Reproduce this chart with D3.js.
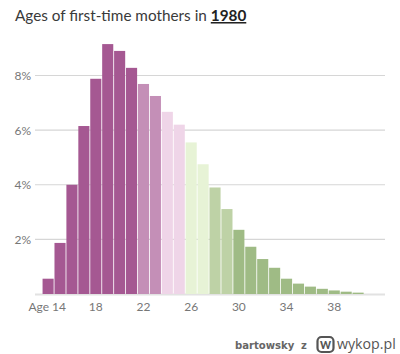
<!DOCTYPE html>
<html><head><meta charset="utf-8">
<script src="https://cdn.jsdelivr.net/npm/d3@7"></script>
<style>html,body{margin:0;padding:0;background:#fff}svg{display:block}</style>
</head><body><svg id="c" width="400" height="354"></svg>
<script>
const ages = [14,15,16,17,18,19,20,21,22,23,24,25,26,27,28,29,30,31,32,33,34,35,36,37,38,39,40];
const shares = [0.56,1.87,4.0,6.15,7.88,9.15,8.9,8.28,7.69,7.25,6.67,6.2,5.55,4.75,3.9,3.11,2.35,1.73,1.28,0.96,0.56,0.38,0.27,0.19,0.13,0.085,0.05];
const groupAges = [14,22,24,26,28,30];
const groupColors = ["#a55892","#c48fb7","#efd5e8","#e7f3d6","#bed2a6","#9fbb85"];
const yTicks = [2,4,6,8];
const xTicks = [14,18,22,26,30,34,38];
const titleText = "Ages of first-time mothers in ";
const titleYear = "1980";

const svg = d3.select("#c");
const x = d3.scaleBand().domain(ages).range([42.2,364]).paddingInner(0.07).paddingOuter(0.03);
const y = d3.scaleLinear().domain([0,8]).range([294,75.5]);
const color = d3.scaleThreshold().domain(groupAges.slice(1)).range(groupColors);
const font = "Lato, 'Open Sans', sans-serif";

svg.append("g").selectAll("line").data(yTicks).join("line")
  .attr("x1",35).attr("x2",385).attr("y1",d=>y(d)).attr("y2",d=>y(d))
  .attr("stroke","#d6d6d6").attr("stroke-width",1.2);
svg.append("line").attr("x1",35).attr("x2",385).attr("y1",294.5).attr("y2",294.5)
  .attr("stroke","#e2e2e2").attr("stroke-width",2);

svg.append("g").selectAll("rect").data(ages).join("rect")
  .attr("x",d=>x(d)).attr("width",x.bandwidth())
  .attr("y",(d,i)=>y(shares[i])).attr("height",(d,i)=>y(0)-y(shares[i]))
  .attr("fill",d=>color(d));

svg.append("g").selectAll("text").data(yTicks).join("text")
  .attr("x",31).attr("y",d=>y(d)+4.5).attr("text-anchor","end")
  .attr("font-family",font).attr("font-size",12).attr("fill","#777")
  .text(d=>d+"%");

svg.append("g").selectAll("text").data(xTicks).join("text")
  .attr("x",d=>d===14?66:x(d)+x.bandwidth()/2).attr("y",310.5)
  .attr("text-anchor",d=>d===14?"end":"middle")
  .attr("font-family",font).attr("font-size",12).attr("fill","#777")
  .text(d=>d===14?"Age 14":d);

const t = svg.append("text").attr("x",15).attr("y",21)
  .attr("font-family",font).attr("font-size",15.3).attr("fill","#3a3a3a");
t.append("tspan").text(titleText);
t.append("tspan").attr("font-weight",700).attr("fill","#222").attr("text-decoration","underline").text(titleYear);

svg.append("text").attr("x",235).attr("y",349)
  .attr("font-family","'DejaVu Sans',sans-serif").attr("font-size",10.1).attr("font-weight",700)
  .attr("fill","#666").text("bartowsky");
svg.append("text").attr("x",301).attr("y",349)
  .attr("font-family","'DejaVu Sans',sans-serif").attr("font-size",10).attr("font-weight",700)
  .attr("fill","#666").text("z");
svg.append("rect").attr("x",317.5).attr("y",337).attr("width",16).attr("height",15).attr("rx",4)
  .attr("fill","none").attr("stroke","#555").attr("stroke-width",2.2);
svg.append("text").attr("x",325.5).attr("y",348.5).attr("text-anchor","middle")
  .attr("font-family",font).attr("font-size",10.5).attr("font-weight",900).attr("fill","#555").text("W");
svg.append("text").attr("x",337).attr("y",349)
  .attr("font-family","'Open Sans',sans-serif").attr("font-size",14.2).attr("fill","#555").text("wykop.pl");
</script></body></html>
